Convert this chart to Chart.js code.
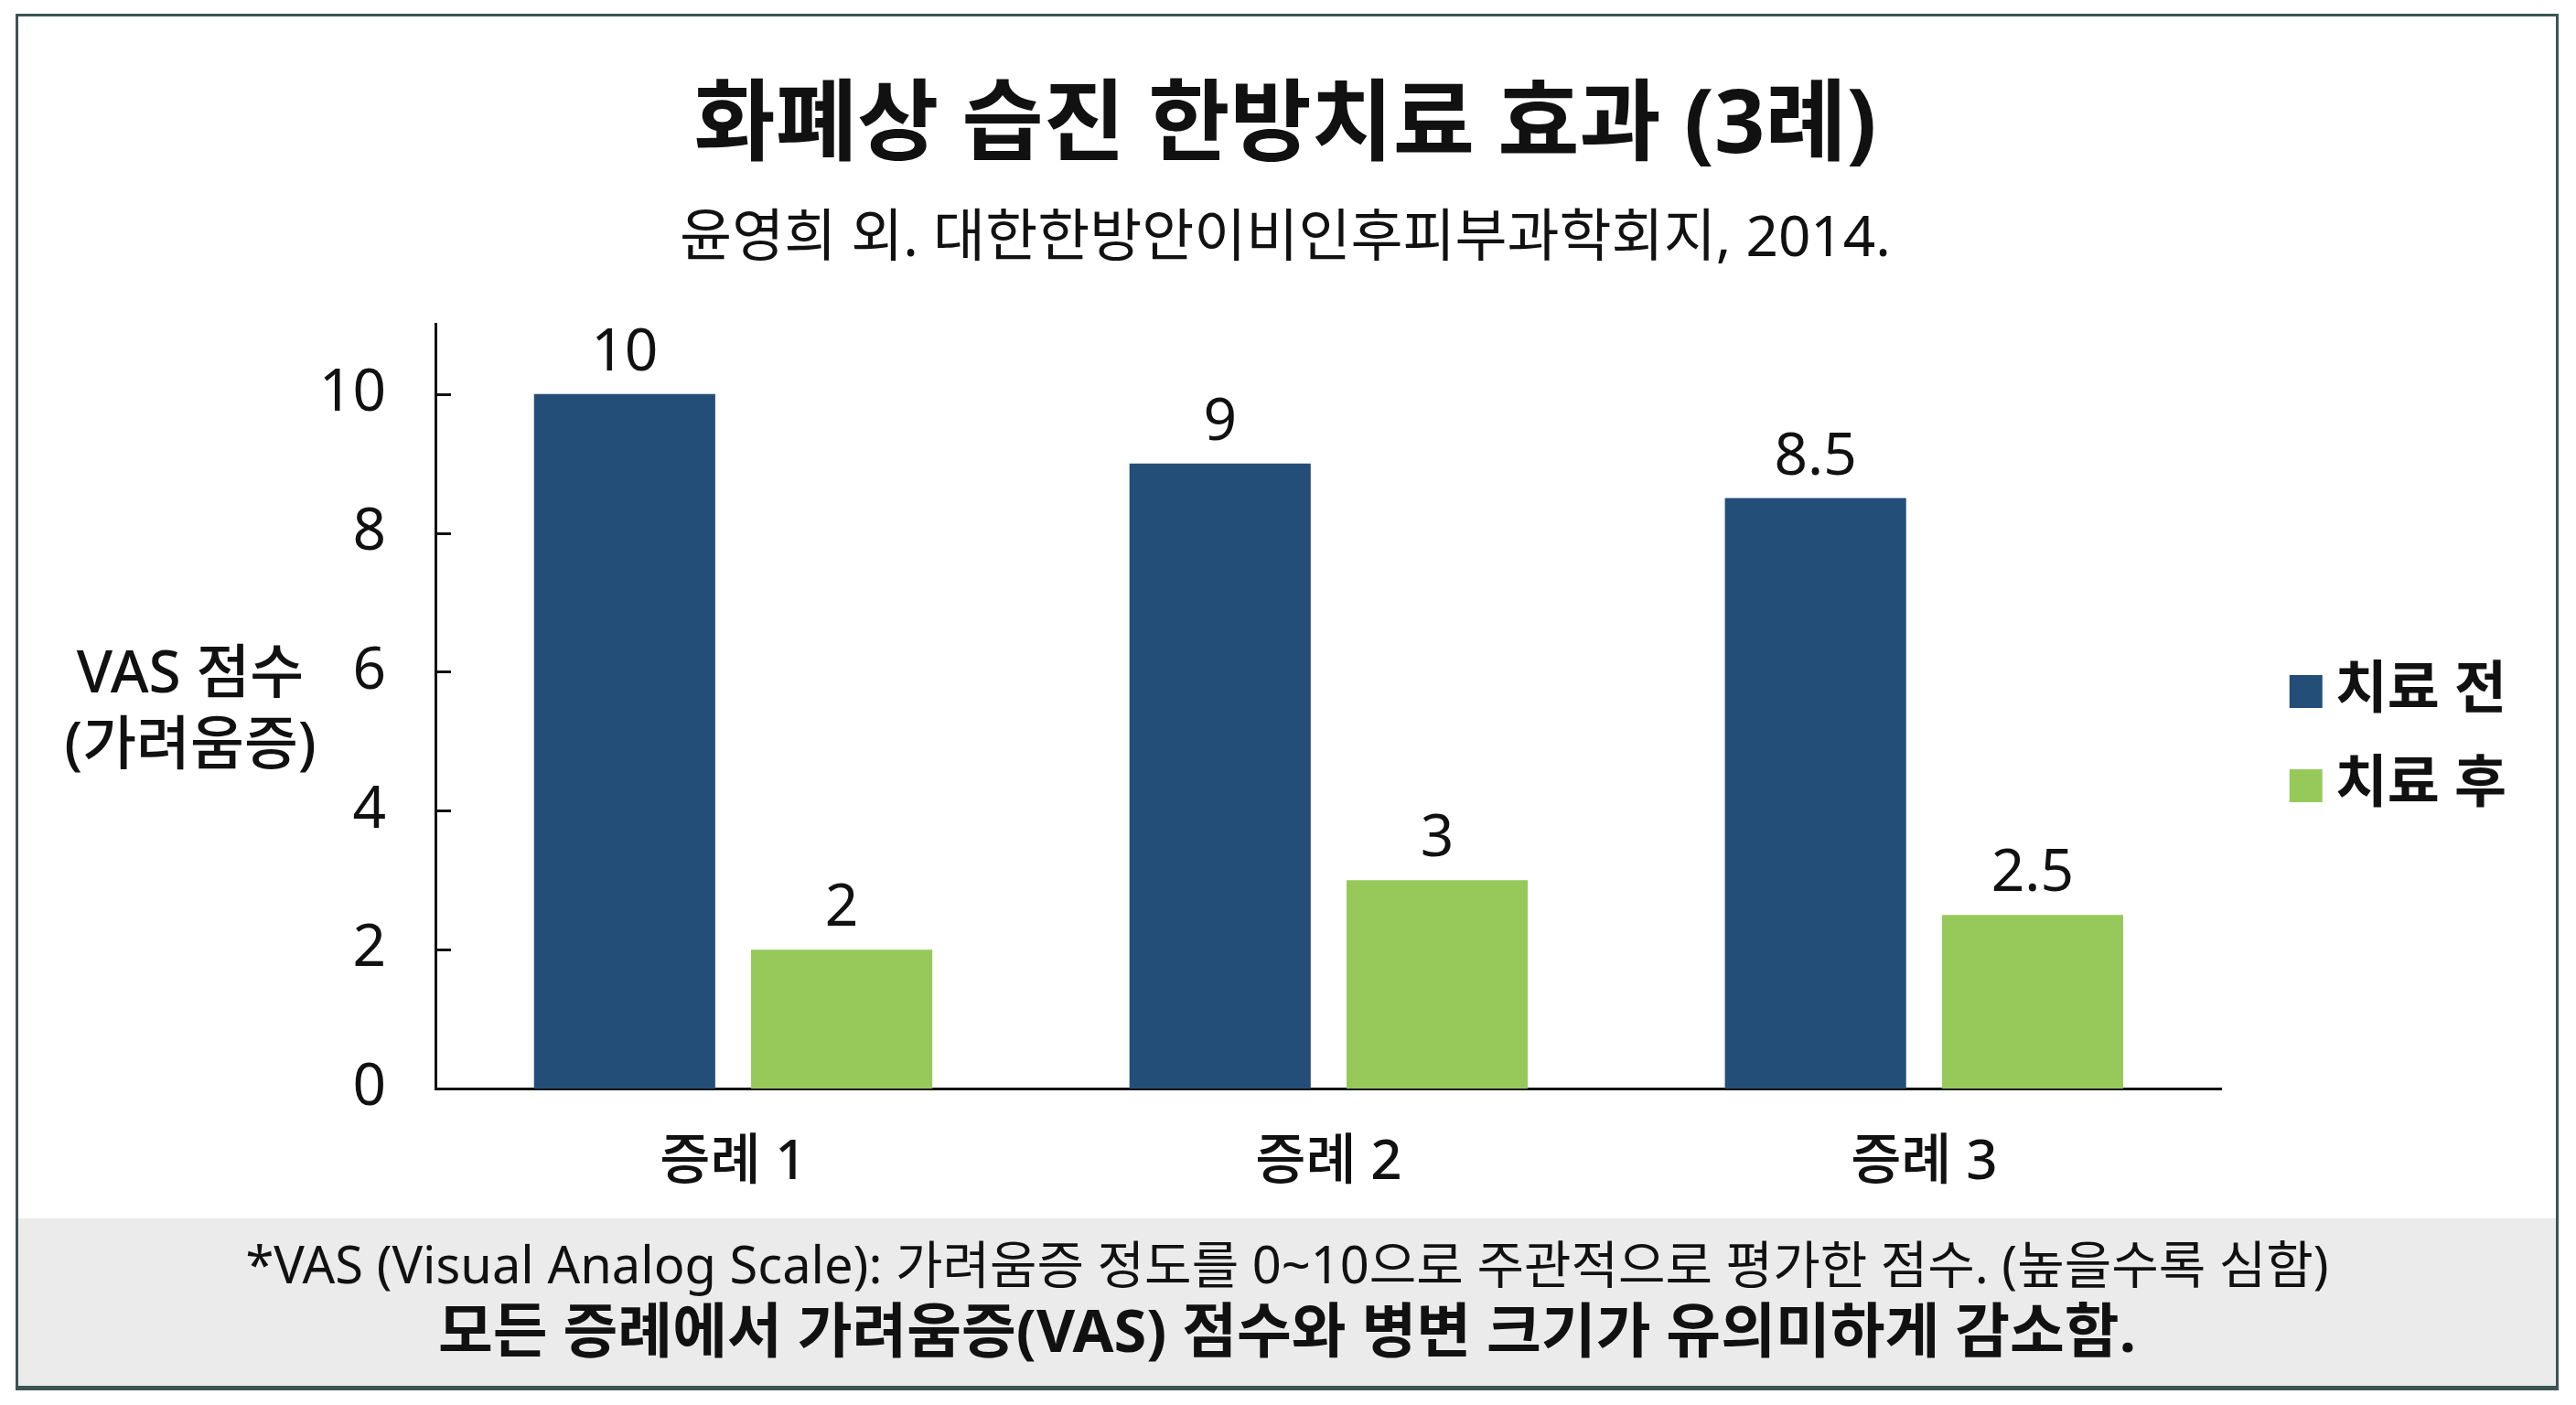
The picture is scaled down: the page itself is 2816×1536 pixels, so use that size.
<!DOCTYPE html>
<html>
<head>
<meta charset="utf-8">
<script src="https://cdn.jsdelivr.net/npm/chart.js@4.4.1/dist/chart.umd.min.js"></script>
<style>
html,body{margin:0;padding:0;background:#fff;}
body{width:2816px;height:1536px;position:relative;overflow:hidden;font-family:'Noto Sans','Noto Sans CJK KR',sans-serif;color:#111;}
#wrap{position:absolute;left:0;top:0;width:2816px;height:1400px;}
#footer{position:absolute;left:19px;top:1332px;width:2776px;height:186px;background:#ebebeb;}
.fl{position:absolute;left:0;right:0;text-align:center;white-space:nowrap;height:70px;line-height:70px;color:#111;}
#f1{top:14px;font-size:56px;font-weight:400;}
#f2{top:86px;font-size:65px;font-weight:700;}
#frame{position:absolute;left:17px;top:15px;width:2780px;height:1505px;box-sizing:border-box;border:3px solid #3b5454;border-bottom-width:5px;pointer-events:none;}
</style>
</head>
<body>
<div id="wrap"><canvas id="c" width="2816" height="1400"></canvas></div>
<div id="footer">
  <div class="fl" id="f1"></div>
  <div class="fl" id="f2"></div>
</div>
<div id="frame"></div>
<script>
// ---- data ----
const categories = ['증례 1', '증례 2', '증례 3'];
const seriesNames = ['치료 전', '치료 후'];
const beforeValues = [10, 9, 8.5];
const afterValues = [2, 3, 2.5];
const yTicks = [0, 2, 4, 6, 8, 10];
const yMin = 0;
const yMax = 11;
const titleText = '화폐상 습진 한방치료 효과 (3례)';
const subtitleText = '윤영희 외. 대한한방안이비인후피부과학회지, 2014.';
const yTitleLines = ['VAS 점수', '(가려움증)'];
const footNote = '*VAS (Visual Analog Scale): 가려움증 정도를 0~10으로 주관적으로 평가한 점수. (높을수록 심함)';
const conclusion = '모든 증례에서 가려움증(VAS) 점수와 병변 크기가 유의미하게 감소함.';

document.getElementById('f1').textContent = footNote;
document.getElementById('f2').textContent = conclusion;

const FONT = "'Noto Sans', 'Noto Sans CJK KR', sans-serif";
Chart.defaults.font.family = FONT;
Chart.defaults.color = '#111';

const barLabels = {
  id: 'barLabels',
  afterDatasetsDraw(chart) {
    const ctx = chart.ctx;
    ctx.save();
    ctx.font = '400 64px ' + FONT;
    ctx.fillStyle = '#111';
    ctx.textAlign = 'center';
    ctx.textBaseline = 'alphabetic';
    chart.data.datasets.forEach((ds, i) => {
      chart.getDatasetMeta(i).data.forEach((bar, j) => {
        ctx.fillText(String(ds.data[j]), bar.x, bar.y - 26);
      });
    });
    ctx.restore();
  }
};

const axisExtras = {
  id: 'axisExtras',
  afterDraw(chart) {
    const ctx = chart.ctx;
    const ys = chart.scales.y;
    const area = chart.chartArea;
    ctx.save();
    ctx.strokeStyle = '#111';
    ctx.lineWidth = 3;
    yTicks.forEach(v => {
      if (v === yMin) return;
      const y = Math.round(ys.getPixelForValue(v)) + 0.5;
      ctx.beginPath();
      ctx.moveTo(area.left, y);
      ctx.lineTo(area.left + 17, y);
      ctx.stroke();
    });
    ctx.font = '500 64px ' + FONT;
    ctx.fillStyle = '#111';
    ctx.textAlign = 'center';
    ctx.textBaseline = 'middle';
    const cx = area.left - 268;
    const mid = (area.top + area.bottom) / 2;
    ctx.fillText(yTitleLines[0], cx, mid - 34);
    ctx.fillText(yTitleLines[1], cx, mid + 44);
    ctx.restore();
  }
};

new Chart(document.getElementById('c'), {
  type: 'bar',
  data: {
    labels: categories,
    datasets: [
      { label: seriesNames[0], data: beforeValues, backgroundColor: '#234e78', yAxisID: 'y',
        categoryPercentage: 0.729, barPercentage: 0.835, borderWidth: 0 },
      { label: seriesNames[1], data: afterValues, backgroundColor: '#96c95a', yAxisID: 'y',
        categoryPercentage: 0.729, barPercentage: 0.835, borderWidth: 0 }
    ]
  },
  options: {
    responsive: false,
    animation: false,
    devicePixelRatio: 1,
    layout: { padding: { left: 60, right: 66, top: 20, bottom: 90 } },
    plugins: {
      title: { display: true, text: titleText, color: '#111',
        font: { size: 97, weight: 'bold' }, padding: { top: 61, bottom: 0 } },
      subtitle: { display: true, text: subtitleText, color: '#111',
        font: { size: 62, weight: 'normal' }, padding: { top: 28, bottom: 55 } },
      legend: {
        position: 'right', fullSize: false, align: 'center',
        title: { display: true, text: ' ', font: { size: 10 }, padding: { top: 58, bottom: 0 } },
        labels: { usePointStyle: true, pointStyle: 'rect', boxWidth: 2, boxHeight: 36, padding: 41, color: '#111',
          font: { size: 62, weight: 'bold' } }
      },
      tooltip: { enabled: false }
    },
    scales: {
      x: {
        grid: { display: false, drawTicks: false },
        border: { display: true, color: '#111', width: 3 },
        ticks: { color: '#111', font: { size: 60, weight: '500' }, padding: 46, maxRotation: 0 },
        afterFit(s) { s.height = 120; }
      },
      y: {
        min: yMin, max: yMax,
        grid: { display: false, drawTicks: false },
        border: { display: true, color: '#111', width: 3 },
        ticks: { color: '#111', font: { size: 64 }, padding: 54 },
        afterBuildTicks(s) { s.ticks = yTicks.map(v => ({ value: v })); },
        afterFit(s) { s.width = 416; }
      },
      pad: {
        type: 'linear', axis: 'y', position: 'right', display: true,
        grid: { display: false, drawTicks: false },
        border: { display: false },
        ticks: { display: false },
        afterFit(s) { s.width = 50; }
      }
    }
  },
  plugins: [barLabels, axisExtras]
});
</script>
</body>
</html>
